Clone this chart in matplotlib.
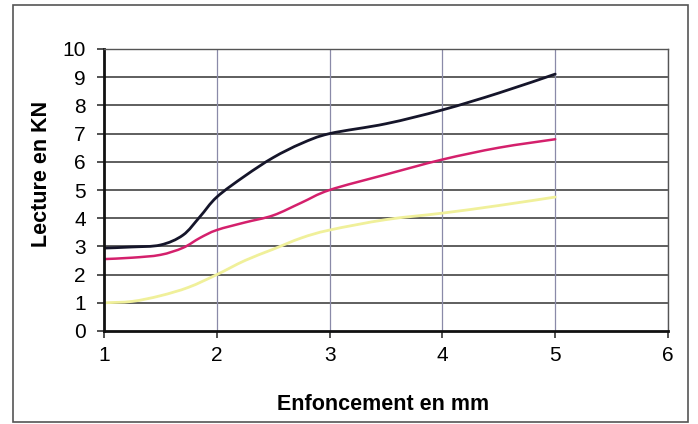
import matplotlib
matplotlib.use("Agg")
import matplotlib.pyplot as plt
import numpy as np
from matplotlib.patches import Rectangle, PathPatch
from matplotlib.path import Path

# penetration (mm) vs reading (kN), three test curves
x_black = [1.0, 1.25, 1.5, 1.7, 1.85, 2.0, 2.25, 2.5, 2.75, 3.0, 3.5, 4.0, 4.5, 5.0]
y_black = [2.94, 2.98, 3.05, 3.4, 4.05, 4.75, 5.5, 6.15, 6.65, 7.0, 7.35, 7.84, 8.44, 9.11]

x_pink = [1.0, 1.25, 1.5, 1.7, 1.85, 2.0, 2.25, 2.5, 2.75, 3.0, 3.5, 4.0, 4.5, 5.0]
y_pink = [2.55, 2.6, 2.7, 2.95, 3.3, 3.58, 3.85, 4.1, 4.55, 5.0, 5.55, 6.08, 6.5, 6.8]

x_yellow = [1.0, 1.25, 1.5, 1.75, 2.0, 2.25, 2.5, 2.75, 3.0, 3.5, 4.0, 4.5, 5.0]
y_yellow = [1.0, 1.05, 1.25, 1.55, 2.0, 2.5, 2.9, 3.3, 3.58, 3.95, 4.18, 4.45, 4.75]

plt.rcParams["font.family"] = ["Liberation Sans", "DejaVu Sans"]


def smooth_path(xs, ys, k=1 / 6):
    """Catmull-Rom style cubic Bezier path through the points (data coords)."""
    p = np.column_stack([xs, ys]).astype(float)
    n = len(p)
    verts = [p[0]]
    codes = [Path.MOVETO]
    for i in range(n - 1):
        p0 = p[i - 1] if i > 0 else p[i]
        p3 = p[i + 2] if i + 2 < n else p[i + 1]
        c1 = p[i] + (p[i + 1] - p0) * k
        c2 = p[i + 1] - (p3 - p[i]) * k
        verts += [c1, c2, p[i + 1]]
        codes += [Path.CURVE4] * 3
    return Path(verts, codes)


fig = plt.figure(figsize=(6.98, 4.24), dpi=100)
fig.patches.append(Rectangle((13 / 698, 2 / 424), 675 / 698, 417 / 424,
                             transform=fig.transFigure, fill=False,
                             edgecolor="#555555", linewidth=1.2))

ax = fig.add_axes([104 / 698, 93 / 424, 564 / 698, 282 / 424])

for xs, ys, col, lw in [(x_yellow, y_yellow, "#f0f09a", 2.0),
                        (x_pink, y_pink, "#d4206c", 1.8),
                        (x_black, y_black, "#15152a", 2.0)]:
    ax.add_patch(PathPatch(smooth_path(xs, ys), facecolor="none",
                           edgecolor=col, linewidth=lw, capstyle="round",
                           joinstyle="round"))

ax.set_xlim(1, 6)
ax.set_ylim(0, 10)
ax.set_xticks(range(1, 7))
ax.set_yticks(range(0, 11))

for v in range(1, 11):
    ax.axhline(v, color="#333333", linewidth=1.1, zorder=0)
for v in range(2, 7):
    ax.axvline(v, color="#8a8aa8", linewidth=0.9, zorder=0)

for side in ("left", "bottom"):
    ax.spines[side].set_color("#111111")
    ax.spines[side].set_linewidth(2.0)
for side in ("top", "right"):
    ax.spines[side].set_color("#555555")
    ax.spines[side].set_linewidth(1.0)

ax.tick_params(axis="both", labelsize=15, length=5, width=1.2, color="#333333")
ax.tick_params(axis="x", pad=6)
ax.tick_params(axis="y", pad=8)
ax.set_xlabel("Enfoncement en mm", fontsize=15.5, fontweight="bold")
ax.set_ylabel("Lecture en KN", fontsize=15.5, fontweight="bold")
ax.xaxis.set_label_coords(0.495, -0.225)
ax.yaxis.set_label_coords(-0.092, 0.558)

fig.savefig("out.png", dpi=100)
